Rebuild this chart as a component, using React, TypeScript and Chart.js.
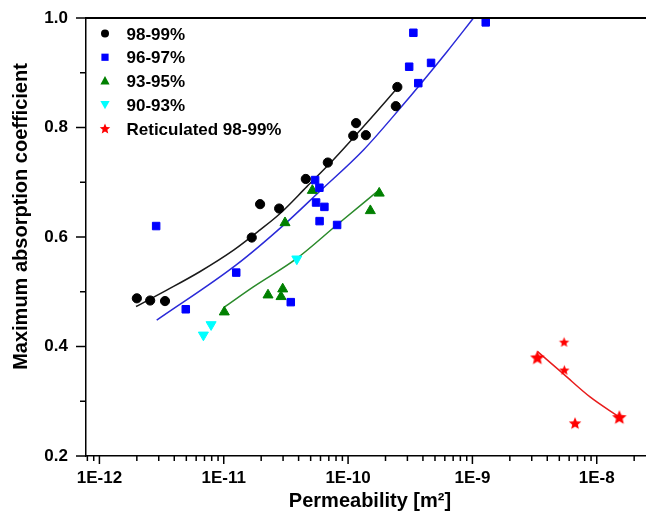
import React, { useEffect, useRef } from 'react';
import { Chart, registerables } from 'chart.js';

Chart.register(...registerables);

const FONT = "'Liberation Sans', Arial, Helvetica, sans-serif";

// ---- axes ----
const xMin = 7.8e-13;
const xMax = 2.49e-8;
const yMin = 0.2;
const yMax = 1.0;
const xDecades = [1e-13, 1e-12, 1e-11, 1e-10, 1e-9, 1e-8];
const xMultipliers = [1, 2, 3, 4, 5, 6, 7, 8, 9];
const xLabelValues = [1e-12, 1e-11, 1e-10, 1e-9, 1e-8];
const xLabelTexts = ['1E-12', '1E-11', '1E-10', '1E-9', '1E-8'];
const yTickValues = [0.2, 0.3, 0.4, 0.5, 0.6, 0.7, 0.8, 0.9, 1.0];
const yTickTexts = ['0.2', '', '0.4', '', '0.6', '', '0.8', '', '1.0'];

const xTitle = 'Permeability [m\u00B2]';
const yTitle = 'Maximum absorption coefficient';

// ---- series (markers) ----
const seriesNames = ['98-99%', '96-97%', '93-95%', '90-93%', 'Reticulated 98-99%'];

const s98X = [2.0e-12, 2.56e-12, 3.37e-12, 1.68e-11, 1.96e-11, 2.79e-11, 4.57e-11, 6.87e-11, 1.16e-10, 1.10e-10, 1.39e-10, 2.49e-10, 2.42e-10];
const s98Y = [0.488, 0.484, 0.483, 0.599, 0.660, 0.652, 0.706, 0.736, 0.808, 0.785, 0.786, 0.874, 0.839];

const s96X = [2.86e-12, 4.95e-12, 1.26e-11, 3.46e-11, 5.43e-11, 5.88e-11, 5.53e-11, 6.45e-11, 5.90e-11, 8.16e-11, 3.35e-10, 3.10e-10, 4.65e-10, 3.67e-10, 1.28e-9];
const s96Y = [0.620, 0.468, 0.535, 0.481, 0.704, 0.690, 0.663, 0.655, 0.629, 0.622, 0.973, 0.911, 0.918, 0.881, 0.992];

const s93X = [1.01e-11, 2.27e-11, 2.98e-11, 2.89e-11, 3.11e-11, 5.16e-11, 1.51e-10, 1.78e-10];
const s93Y = [0.463, 0.494, 0.505, 0.491, 0.626, 0.685, 0.648, 0.680];

const s90X = [6.86e-12, 7.91e-12, 3.87e-11];
const s90Y = [0.421, 0.440, 0.560];

const sRetX = [3.33e-9, 5.46e-9, 5.49e-9, 6.69e-9, 1.52e-8];
const sRetY = [0.380, 0.408, 0.357, 0.260, 0.271];

// ---- fitted curves ----
const fit98X = [1.97e-12, 3.48e-12, 6.46e-12, 1.20e-11, 1.96e-11, 2.84e-11, 4.66e-11, 7.62e-11, 1.41e-10, 2.49e-10];
const fit98Y = [0.473, 0.503, 0.537, 0.576, 0.613, 0.643, 0.692, 0.741, 0.808, 0.872];

const fit96X = [2.89e-12, 1.26e-11, 3.11e-11, 5.95e-11, 1.33e-10, 2.62e-10, 6.22e-10, 1.02e-9];
const fit96Y = [0.448, 0.549, 0.624, 0.684, 0.759, 0.835, 0.938, 1.0];

const fit93X = [1.01e-11, 1.73e-11, 3.87e-11, 8.11e-11, 1.78e-10];
const fit93Y = [0.472, 0.509, 0.561, 0.622, 0.686];

const fitRetX = [3.33e-9, 5.39e-9, 8.83e-9, 1.52e-8];
const fitRetY = [0.391, 0.350, 0.308, 0.271];

// ---- styles ----
const retStarSizes = [7.6, 5.4, 5.4, 6.6, 7.6];

const pts = (xs: number[], ys: number[]) => xs.map((x, i) => ({ x, y: ys[i] }));

function starPath(ctx: CanvasRenderingContext2D, cx: number, cy: number, R: number) {
  const r = R * 0.45;
  ctx.beginPath();
  for (let i = 0; i < 10; i++) {
    const rad = i % 2 === 0 ? R : r;
    const a = -Math.PI / 2 + (i * Math.PI) / 5;
    const px = cx + rad * Math.cos(a);
    const py = cy + rad * Math.sin(a);
    if (i === 0) ctx.moveTo(px, py);
    else ctx.lineTo(px, py);
  }
  ctx.closePath();
}

function makeStar(R: number, color: string) {
  const c = document.createElement('canvas');
  const s = Math.ceil(2 * R + 2);
  c.width = s;
  c.height = s;
  const g = c.getContext('2d')!;
  g.fillStyle = color;
  starPath(g, s / 2, s / 2 + R * 0.08, R);
  g.fill();
  return c;
}

function isMajorX(v: number) {
  return xLabelValues.findIndex((d) => Math.abs(v - d) / d < 1e-6);
}

const decorPlugin = {
  id: 'decor',
  afterDraw(chart: any) {
    const ctx: CanvasRenderingContext2D = chart.ctx;
    const area = chart.chartArea;
    const xs = chart.scales.x;
    const ys = chart.scales.y;
    ctx.save();
    ctx.strokeStyle = '#000';
    // top frame line
    ctx.lineWidth = 2;
    ctx.beginPath();
    ctx.moveTo(area.left, area.top);
    ctx.lineTo(area.right, area.top);
    ctx.stroke();
    // tick marks
    ctx.lineWidth = 1.5;
    xs.ticks.forEach((t: any) => {
      const px = xs.getPixelForValue(t.value);
      if (px < area.left - 0.5 || px > area.right + 0.5) return;
      const major = isMajorX(t.value) >= 0;
      ctx.beginPath();
      ctx.moveTo(px, area.bottom);
      ctx.lineTo(px, area.bottom + (major ? 8 : 5));
      ctx.stroke();
    });
    ys.ticks.forEach((t: any) => {
      const py = ys.getPixelForValue(t.value);
      const major = yTickTexts[yTickValues.indexOf(t.value)] !== '';
      ctx.beginPath();
      ctx.moveTo(area.left, py);
      ctx.lineTo(area.left - (major ? 10 : 6), py);
      ctx.stroke();
    });
    // axis titles
    ctx.fillStyle = '#000';
    ctx.font = `bold 20px ${FONT}`;
    ctx.textAlign = 'center';
    ctx.textBaseline = 'alphabetic';
    ctx.fillText(xTitle, 370, 507);
    ctx.save();
    ctx.translate(27, 216.5);
    ctx.rotate(-Math.PI / 2);
    ctx.fillText(yTitle, 0, 0);
    ctx.restore();
    // legend
    const lx = 105;
    const ly0 = 33.5;
    const step = 23.75;
    ctx.font = `bold 17px ${FONT}`;
    ctx.textAlign = 'left';
    seriesNames.forEach((name, i) => {
      const cy = ly0 + i * step;
      ctx.beginPath();
      if (i === 0) {
        ctx.fillStyle = '#000';
        ctx.arc(lx, cy, 4, 0, Math.PI * 2);
        ctx.fill();
      } else if (i === 1) {
        ctx.fillStyle = '#0000ff';
        ctx.fillRect(lx - 3.6, cy - 3.6, 7.2, 7.2);
      } else if (i === 2) {
        ctx.fillStyle = '#008000';
        ctx.moveTo(lx, cy - 5);
        ctx.lineTo(lx + 4.6, cy + 3.5);
        ctx.lineTo(lx - 4.6, cy + 3.5);
        ctx.closePath();
        ctx.fill();
      } else if (i === 3) {
        ctx.fillStyle = '#00ffff';
        ctx.moveTo(lx, cy + 4.5);
        ctx.lineTo(lx + 4.6, cy - 3.8);
        ctx.lineTo(lx - 4.6, cy - 3.8);
        ctx.closePath();
        ctx.fill();
      } else {
        ctx.fillStyle = '#ff0000';
        starPath(ctx, lx, cy + 0.5, 5.5);
        ctx.fill();
      }
      ctx.fillStyle = '#000';
      ctx.fillText(name, 126.5, cy + 6);
    });
    ctx.restore();
  },
};

export default function App() {
  const ref = useRef<HTMLCanvasElement | null>(null);
  useEffect(() => {
    if (!ref.current) return;
    const retStyles = retStarSizes.map((r) => makeStar(r, '#ff0000'));
    const xTickList: number[] = [];
    xDecades.forEach((d) => xMultipliers.forEach((m) => {
      const v = d * m;
      if (v >= xMin && v <= xMax) xTickList.push(v);
    }));
    const lineCommon = { showLine: true, pointRadius: 0, pointHoverRadius: 0, borderWidth: 1.5, tension: 0.3, cubicInterpolationMode: 'monotone', order: 2, fill: false };
    const chart = new Chart(ref.current, {
      type: 'scatter',
      data: {
        datasets: [
          { label: seriesNames[0], data: pts(s98X, s98Y), pointStyle: 'circle', pointRadius: 4.6, backgroundColor: '#000', borderColor: '#000', pointBorderWidth: 1, order: 1 },
          { label: seriesNames[1], data: pts(s96X, s96Y), pointStyle: 'rect', pointRadius: 5.3, backgroundColor: '#0000ff', borderColor: '#0000ff', pointBorderWidth: 1, order: 1 },
          { label: seriesNames[2], data: pts(s93X, s93Y), pointStyle: 'triangle', pointRadius: 5.8, backgroundColor: '#008000', borderColor: '#008000', pointBorderWidth: 1, order: 1 },
          { label: seriesNames[3], data: pts(s90X, s90Y), pointStyle: 'triangle', pointRotation: 180, pointRadius: 5.8, backgroundColor: '#00ffff', borderColor: '#00ffff', pointBorderWidth: 1, order: 1 },
          { label: seriesNames[4], data: pts(sRetX, sRetY), pointStyle: retStyles as any, pointRadius: 6, backgroundColor: '#ff0000', borderColor: '#ff0000', order: 1 },
          { label: 'fit1', data: pts(fit98X, fit98Y), borderColor: '#1a1a1a', ...lineCommon },
          { label: 'fit2', data: pts(fit96X, fit96Y), borderColor: '#2a2ad8', ...lineCommon },
          { label: 'fit3', data: pts(fit93X, fit93Y), borderColor: '#2a8a2a', ...lineCommon },
          { label: 'fit4', data: pts(fitRetX, fitRetY), borderColor: '#e81c1c', ...lineCommon },
        ] as any,
      },
      options: {
        animation: false,
        responsive: false,
        devicePixelRatio: 1,
        events: [],
        layout: { autoPadding: false, padding: { top: 18, left: 0, right: 0, bottom: 0 } },
        plugins: { legend: { display: false }, tooltip: { enabled: false }, title: { display: false } },
        scales: {
          x: {
            type: 'logarithmic',
            min: xMin,
            max: xMax,
            afterBuildTicks: (s: any) => { s.ticks = xTickList.map((v) => ({ value: v })); },
            afterFit: (s: any) => { s.height = 57; s.paddingLeft = 0; s.paddingRight = 0; },
            grid: { display: false, drawTicks: false },
            border: { display: true, color: '#000', width: 1.5 },
            ticks: {
              autoSkip: false,
              maxRotation: 0,
              minRotation: 0,
              padding: 12,
              color: '#000',
              font: { family: FONT, size: 17, weight: 'bold' },
              callback: (v: any) => { const k = isMajorX(Number(v)); return k >= 0 ? xLabelTexts[k] : ''; },
            },
          },
          y: {
            type: 'linear',
            min: yMin,
            max: yMax,
            afterBuildTicks: (s: any) => { s.ticks = yTickValues.map((v) => ({ value: v })); },
            afterFit: (s: any) => { s.width = 86; s.paddingTop = 0; s.paddingBottom = 0; },
            grid: { display: false, drawTicks: false },
            border: { display: true, color: '#000', width: 1.5 },
            ticks: {
              autoSkip: false,
              padding: 18,
              color: '#000',
              font: { family: FONT, size: 17, weight: 'bold' },
              callback: (v: any) => { const k = yTickValues.findIndex((t) => Math.abs(t - Number(v)) < 1e-9); return k >= 0 ? yTickTexts[k] : ''; },
            },
          },
        },
      } as any,
      plugins: [decorPlugin],
    });
    return () => chart.destroy();
  }, []);
  return (
    <div style={{ position: 'fixed', left: 0, top: 0, width: 646, height: 513, background: '#fff', overflow: 'hidden' }}>
      <canvas ref={ref} width={646} height={513} style={{ display: 'block' }} />
    </div>
  );
}
